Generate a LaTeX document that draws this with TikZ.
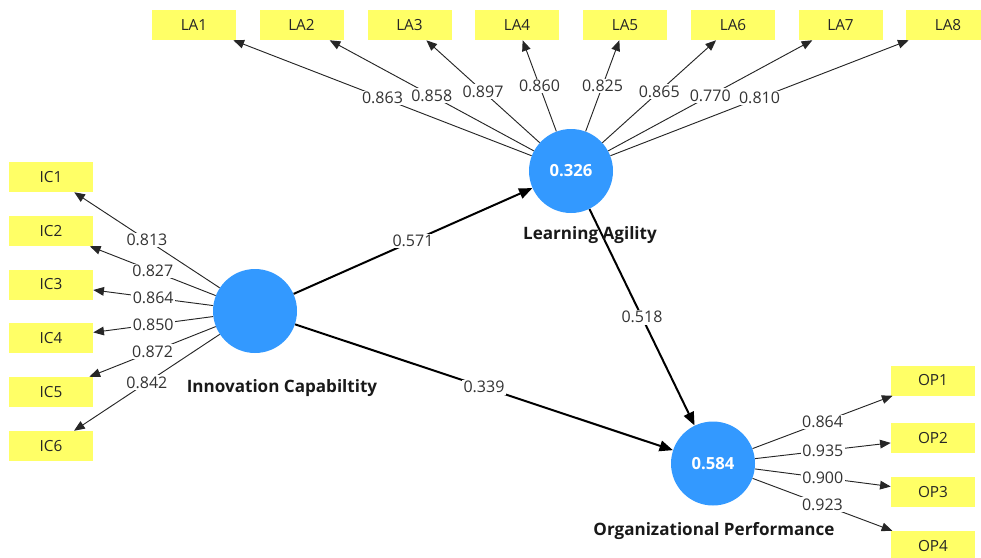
\documentclass[tikz,border=0pt]{standalone}
\usepackage{fontspec}
\setmainfont{Open Sans}
\usetikzlibrary{arrows.meta}
\definecolor{boxy}{HTML}{FFFF66}
\definecolor{circb}{HTML}{3399FF}
\begin{document}
\begin{tikzpicture}[x=0.75pt,y=-0.75pt,
 ind/.style={fill=boxy, minimum width=63pt, minimum height=22.5pt, inner sep=0pt, font=\fontsize{11.5}{13}\selectfont, text=black!85},
 lat/.style={circle, fill=circb, minimum size=63pt, inner sep=0pt, text=white, font=\bfseries\fontsize{12.5}{14}\selectfont},
 load/.style={-{Triangle[length=8pt,width=6.5pt]}, line width=0.7pt, draw=black!85},
 spath/.style={-{Triangle[length=10pt,width=8pt]}, line width=1.5pt, draw=black},
 wt/.style={fill=white, inner sep=1pt, font=\fontsize{12}{13}\selectfont, text=black!80},
 ttl/.style={font=\bfseries\fontsize{12.8}{14}\selectfont, text=black!90}]
\useasboundingbox (0,0) rectangle (981,557);
\clip (0,0) rectangle (981,557);
% latent variables
\node[lat] (ic) at (255,311) {};
\node[lat] (la) at (571,171) {0.326};
\node[lat] (op) at (713,463.5) {0.584};
% indicators
\foreach \i/\x in {1/194,2/301.5,3/409.5,4/517,5/625,6/733,7/840.5,8/948}
  \node[ind] (la\i) at (\x,25) {LA\i};
\foreach \i/\y in {1/177,2/231,3/284.5,4/338,5/392,6/446}
  \node[ind] (ic\i) at (51,\y) {IC\i};
\foreach \i/\y in {1/380.5,2/438,3/492,4/546}
  \node[ind] (op\i) at (933,\y) {OP\i};
% loadings
\foreach \i/\v in {1/0.813,2/0.827,3/0.864,4/0.850,5/0.872,6/0.842}
  \draw[load] (ic) -- node[wt] {\v} (ic\i);
\foreach \i/\v in {1/0.863,2/0.858,3/0.897,4/0.860,5/0.825,6/0.865,7/0.770,8/0.810}
  \draw[load] (la) -- node[wt] {\v} (la\i);
\foreach \i/\v in {1/0.864,2/0.935,3/0.900,4/0.923}
  \draw[load] (op) -- node[wt] {\v} (op\i);
% structural paths
\draw[spath] (ic) -- node[wt] {0.571} (la);
\draw[spath] (ic) -- node[wt] {0.339} (op);
\draw[spath] (la) -- node[wt] {0.518} (op);
% titles
\node[ttl] (ict) at (282,388) {Innovation Capabiltity};
\node[ttl] (lat) at (590,235) {Learning Agility};
\node[ttl] (opt) at (714,531) {Organizational Performance};
\end{tikzpicture}
\end{document}
